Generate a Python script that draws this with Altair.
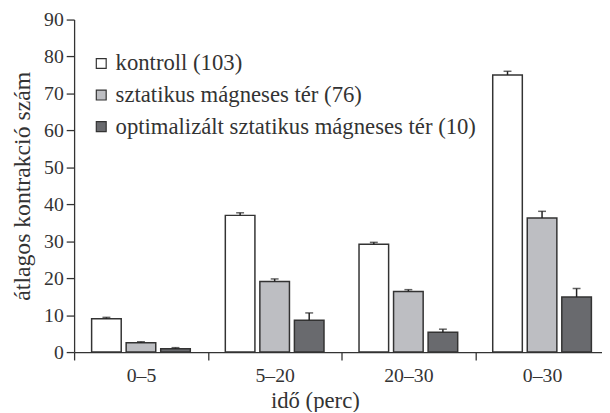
import altair as alt
import pandas as pd

groups = ["0–5", "5–20", "20–30", "0–30"]
series = ["kontroll (103)", "sztatikus mágneses tér (76)", "optimalizált sztatikus mágneses tér (10)"]
kontroll = [9.0, 37.0, 29.2, 75.0]
kontroll_err = [0.4, 0.7, 0.5, 1.0]
sztatikus = [2.5, 19.1, 16.4, 36.3]
sztatikus_err = [0.3, 0.7, 0.5, 1.8]
optimalizalt = [0.9, 8.6, 5.4, 14.9]
optimalizalt_err = [0.3, 2.0, 0.8, 2.3]
colors = ["#ffffff", "#bdbec2", "#696a6e"]

rows = []
for s, vals, errs in zip(series, [kontroll, sztatikus, optimalizalt],
                         [kontroll_err, sztatikus_err, optimalizalt_err]):
    for g, v, e in zip(groups, vals, errs):
        rows.append({"group": g, "series": s, "value": v, "upper": v + e})
df = pd.DataFrame(rows)

FONT = "Liberation Serif"
TXT = "#333333"
PLOT_W = 535
RANGE_W = 542
HALF_BAND = RANGE_W / 4 / 2

x_enc = alt.X(
    "group:N", sort=groups,
    scale=alt.Scale(range=[0, RANGE_W], paddingInner=0, paddingOuter=0),
    axis=alt.Axis(title="idő (perc)", labelAngle=0, tickSize=8, tickOffset=-HALF_BAND,
                  labelOffset=HALF_BAND, labelPadding=6, titlePadding=4, titleX=244,
                  labelFont=FONT, labelFontSize=20, titleFont=FONT, titleFontSize=23,
                  titleFontWeight="normal", labelColor=TXT, titleColor=TXT,
                  domainColor="#333", tickColor="#333", domainWidth=1.3, tickWidth=1.3),
)
xo_enc = alt.XOffset("series:N", sort=series,
                     scale=alt.Scale(paddingInner=0.143, paddingOuter=0.507))
y_scale = alt.Scale(domain=[0, 90], nice=False)
y_axis = alt.Axis(title="átlagos kontrakció szám", values=list(range(0, 91, 10)),
                  tickSize=8, labelPadding=3, grid=False, titlePadding=9,
                  labelOverlap=False,
                  labelFont=FONT, labelFontSize=20, titleFont=FONT, titleFontSize=24,
                  titleFontWeight="normal", labelColor=TXT, titleColor=TXT,
                  domainColor="#333", tickColor="#333", domainWidth=1.3, tickWidth=1.3)

base = alt.Chart(df).encode(x=x_enc, xOffset=xo_enc)

bars = base.mark_bar(stroke="#333", strokeWidth=1.5).encode(
    y=alt.Y("value:Q", scale=y_scale, axis=y_axis),
    fill=alt.Fill("series:N", sort=series, scale=alt.Scale(domain=series, range=colors),
                  legend=alt.Legend(title=None, orient="none", legendX=16, legendY=33,
                                    symbolType="square", symbolSize=100,
                                    symbolStrokeColor="#333", symbolStrokeWidth=1.2,
                                    labelFont=FONT, labelFontSize=23, labelColor=TXT,
                                    labelOffset=3, rowPadding=8, padding=0,
                                    labelLimit=600)),
)

rules = base.mark_rule(color="#222", strokeWidth=1.5).encode(
    y=alt.Y("value:Q", scale=y_scale, axis=y_axis), y2="upper:Q")
caps = base.mark_tick(color="#222", thickness=1.5, size=8).encode(
    y=alt.Y("upper:Q", scale=y_scale, axis=y_axis))

chart = alt.layer(bars, rules, caps).properties(
    width=PLOT_W, height=337,
    autosize=alt.AutoSizeParams(type="none"),
    padding={"left": 67, "top": 9, "right": 0, "bottom": 58},
    background="white",
).configure(font=FONT).configure_view(stroke=None)

chart.save("out.html", embed_options={"renderer": "svg", "actions": False})
